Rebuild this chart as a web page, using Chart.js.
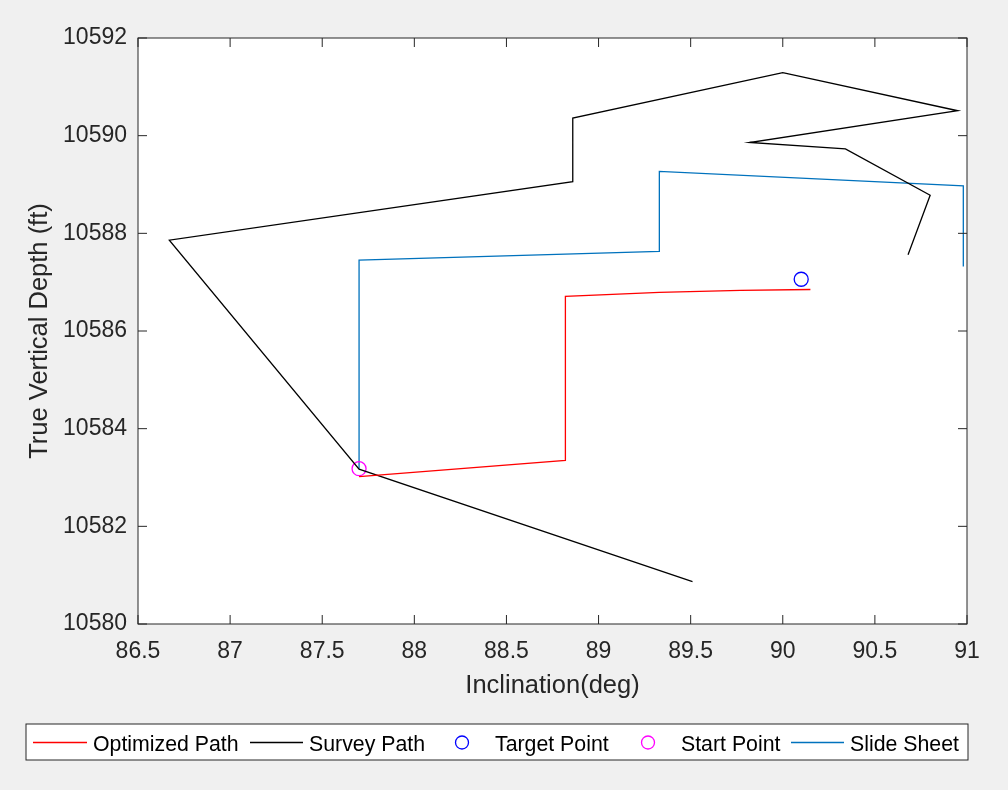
<!DOCTYPE html>
<html>
<head>
<meta charset="utf-8">
<title>Inclination vs TVD</title>
<script src="https://cdn.jsdelivr.net/npm/chart.js@4/dist/chart.umd.min.js"></script>
<style>
    body { margin: 0; background: #f0f0f0; }
    #wrap { width: 1008px; height: 790px; }
</style>
</head>
<body>
<div id="wrap"><canvas id="tvdChart" width="1008" height="790"></canvas></div>
<script>
        // 데이터
        const optX = [87.70, 88.82, 88.82, 89.33, 89.77, 90.15];
        const optY = [10583.02, 10583.35, 10586.71, 10586.79, 10586.83, 10586.85];

        const surveyX = [89.51, 87.70, 86.67, 88.86, 88.86, 90.00, 90.95, 89.82, 90.34, 90.80, 90.68];
        const surveyY = [10580.87, 10583.17, 10587.86, 10589.06, 10590.36, 10591.29, 10590.51, 10589.86, 10589.73, 10588.78, 10587.56];

        const targetX = [90.10];
        const targetY = [10587.06];

        const startX = [87.70];
        const startY = [10583.18];

        const slideX = [87.70, 87.70, 89.33, 89.33, 90.98, 90.98];
        const slideY = [10583.18, 10587.45, 10587.63, 10589.27, 10588.97, 10587.32];

        const xTicks = [86.5, 87, 87.5, 88, 88.5, 89, 89.5, 90, 90.5, 91];
        const yTicks = [10580, 10582, 10584, 10586, 10588, 10590, 10592];

        const seriesNames = ['Optimized Path', 'Survey Path', 'Target Point', 'Start Point', 'Slide Sheet'];

        const FONT = '"Liberation Sans", Arial, sans-serif';
        const AXIS_COLOR = '#262626';

        function toPoints(xs, ys) {
            return xs.map((x, i) => ({ x: x, y: ys[i] }));
        }

        function lineSet(label, xs, ys, color) {
            return {
                label: label,
                data: toPoints(xs, ys),
                showLine: true,
                borderColor: color,
                borderWidth: 1.3,
                pointRadius: 0,
                fill: false,
                tension: 0,
                kind: 'line'
            };
        }

        function markerSet(label, xs, ys, color) {
            return {
                label: label,
                data: toPoints(xs, ys),
                showLine: false,
                borderColor: color,
                backgroundColor: 'rgba(0,0,0,0)',
                borderWidth: 1.3,
                pointRadius: 7,
                pointStyle: 'circle',
                kind: 'marker'
            };
        }

        // 흰 배경 + 박스 + 안쪽 눈금 + 축 제목 + 범례
        const matlabLook = {
            id: 'matlabLook',
            beforeDraw(chart) {
                const a = chart.chartArea;
                const ctx = chart.ctx;
                ctx.save();
                ctx.fillStyle = '#ffffff';
                ctx.fillRect(a.left, a.top, a.right - a.left, a.bottom - a.top);
                ctx.restore();
            },
            afterDraw(chart) {
                const a = chart.chartArea;
                const ctx = chart.ctx;
                const xs = chart.scales.x;
                const ys = chart.scales.y;
                const tl = 9;

                ctx.save();
                ctx.strokeStyle = AXIS_COLOR;
                ctx.lineWidth = 1;
                ctx.strokeRect(a.left, a.top, a.right - a.left, a.bottom - a.top);

                ctx.beginPath();
                xTicks.forEach(v => {
                    const px = xs.getPixelForValue(v);
                    ctx.moveTo(px, a.bottom); ctx.lineTo(px, a.bottom - tl);
                    ctx.moveTo(px, a.top); ctx.lineTo(px, a.top + tl);
                });
                yTicks.forEach(v => {
                    const py = ys.getPixelForValue(v);
                    ctx.moveTo(a.left, py); ctx.lineTo(a.left + tl, py);
                    ctx.moveTo(a.right, py); ctx.lineTo(a.right - tl, py);
                });
                ctx.stroke();

                // 축 제목
                ctx.fillStyle = AXIS_COLOR;
                ctx.font = '25.5px ' + FONT;
                ctx.textAlign = 'center';
                ctx.textBaseline = 'middle';
                ctx.fillText('Inclination(deg)', (a.left + a.right) / 2, 686);
                ctx.translate(40, (a.top + a.bottom) / 2);
                ctx.rotate(-Math.PI / 2);
                ctx.fillText('True Vertical Depth (ft)', 0, 0);
                ctx.restore();

                // 범례
                ctx.save();
                ctx.fillStyle = '#ffffff';
                ctx.fillRect(26, 724, 942, 36);
                ctx.strokeStyle = AXIS_COLOR;
                ctx.lineWidth = 1;
                ctx.strokeRect(26, 724, 942, 36);

                const items = [
                    { sx: 33, ex: 87, tx: 93 },
                    { sx: 250, ex: 303, tx: 309 },
                    { cx: 462, tx: 495 },
                    { cx: 648, tx: 681 },
                    { sx: 791, ex: 844, tx: 850 }
                ];
                ctx.font = '21.3px ' + FONT;
                ctx.textAlign = 'left';
                ctx.textBaseline = 'alphabetic';
                chart.data.datasets.forEach((ds, i) => {
                    const it = items[i];
                    ctx.strokeStyle = ds.borderColor;
                    ctx.lineWidth = 1.3;
                    ctx.beginPath();
                    if (ds.kind === 'line') {
                        ctx.moveTo(it.sx, 742.5); ctx.lineTo(it.ex, 742.5);
                    } else {
                        ctx.arc(it.cx, 742.5, 6.5, 0, Math.PI * 2);
                    }
                    ctx.stroke();
                    ctx.fillStyle = '#000000';
                    ctx.fillText(ds.label, it.tx, 750.5);
                });
                ctx.restore();
            }
        };

        const ctx = document.getElementById('tvdChart').getContext('2d');
        const tvdChart = new Chart(ctx, {
            type: 'scatter',
            data: {
                datasets: [
                    lineSet(seriesNames[0], optX, optY, '#ff0000'),
                    lineSet(seriesNames[1], surveyX, surveyY, '#000000'),
                    markerSet(seriesNames[2], targetX, targetY, '#0000ff'),
                    markerSet(seriesNames[3], startX, startY, '#ff00ff'),
                    lineSet(seriesNames[4], slideX, slideY, '#0072bd')
                ]
            },
            options: {
                responsive: false,
                animation: false,
                layout: { padding: { left: 0, top: 38, right: 41, bottom: 0 } },
                plugins: {
                    legend: { display: false },
                    tooltip: { enabled: false }
                },
                scales: {
                    x: {
                        type: 'linear',
                        min: 86.5,
                        max: 91,
                        afterFit: s => { s.height = 166; },
                        afterBuildTicks: s => { s.ticks = xTicks.map(v => ({ value: v })); },
                        grid: { display: false, drawTicks: false },
                        border: { display: false },
                        ticks: {
                            color: AXIS_COLOR,
                            font: { family: FONT, size: 23 },
                            padding: 14,
                            maxRotation: 0,
                            autoSkip: false,
                            callback: v => String(v)
                        }
                    },
                    y: {
                        type: 'linear',
                        min: 10580,
                        max: 10592,
                        afterFit: s => { s.width = 138; },
                        afterBuildTicks: s => { s.ticks = yTicks.map(v => ({ value: v })); },
                        grid: { display: false, drawTicks: false },
                        border: { display: false },
                        ticks: {
                            color: AXIS_COLOR,
                            font: { family: FONT, size: 23 },
                            padding: 11,
                            autoSkip: false,
                            callback: v => String(v)
                        }
                    }
                }
            },
            plugins: [matlabLook]
        });
</script>
</body>
</html>
